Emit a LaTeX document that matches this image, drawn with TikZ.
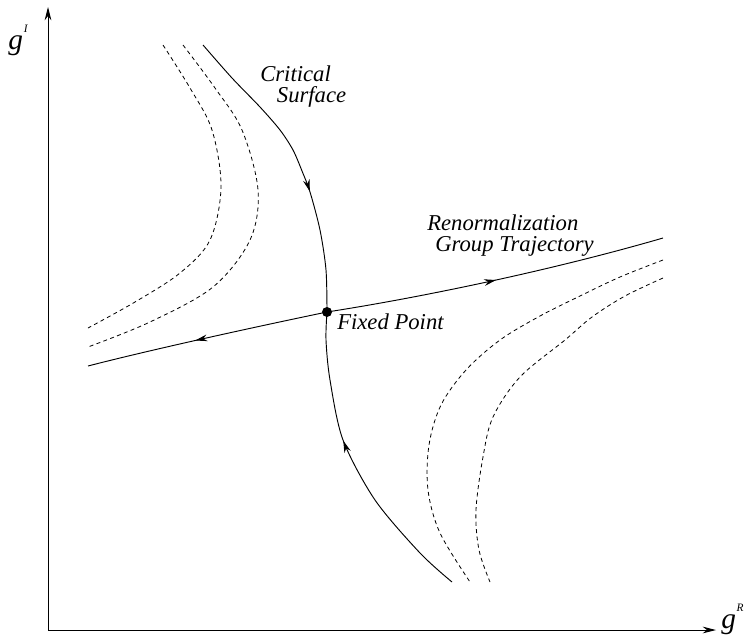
\documentclass[tikz,border=0pt]{standalone}
\usepackage{fontspec}
\setmainfont{Liberation Serif}
\usetikzlibrary{arrows.meta,decorations.markings}
\tikzset{
  flow/.style={postaction={decorate},decoration={markings,
    mark=at position #1 with {\arrow{Stealth[length=9pt,width=5pt]}}}},
  critline/.style={line width=0.7pt},
  nearline/.style={line width=0.6pt,dash pattern=on 3pt off 2.5pt},
  lbl/.style={font=\fontsize{17}{15.75}\selectfont\itshape,inner sep=0pt,anchor=north west,align=left}
}
\newcommand{\axlab}[1]{\textit{g}\kern0.5pt\raisebox{1.25ex}{\fontsize{8.5}{8.5}\selectfont\itshape #1}}
\begin{document}
\begin{tikzpicture}[x=0.75pt,y=-0.75pt]
\useasboundingbox (0,0) rectangle (745,635);
% axes
\coordinate (o) at (48,630);
\draw[line width=0.7pt,-{Stealth[length=10pt,width=5pt]}](o)--(48,7);
\draw[line width=0.7pt,-{Stealth[length=10pt,width=5pt]}](o)--(716,630);
\node[font=\fontsize{22}{24}\selectfont,inner sep=0pt] (gi) at (18,40) {\axlab{I}};
\node[font=\fontsize{22}{24}\selectfont,inner sep=0pt,anchor=base west] (gr) at (721,628) {\axlab{R}};
%
\node[circle,fill,inner sep=0pt,minimum size=7.5pt] (fp) at (327,312) {};
%
\draw[critline,flow=0.6] plot[smooth,tension=0.5] coordinates
  {(203,45) (232,78) (260,107) (280,130) (293,150) (302,171) (310,192) (320,230) (326,270) (fp.center)};
\draw[critline,flow=0.58] plot[smooth,tension=0.5] coordinates
  {(452,582) (420,553) (375,500) (343,440) (330,380) (326,340) (fp.center)};
\draw[critline,flow=0.5] (fp.center) .. controls (430,296) and (560,268) .. (663,238);
\draw[critline,flow=0.55] (fp.center) .. controls (250,328) and (150,350) .. (88,366);
%
\draw[nearline] plot[smooth,tension=0.55] coordinates
  {(163,45) (190,88) (212,130) (221,187) (210,240) (180,273) (135,302) (88,328)};
\draw[nearline] plot[smooth,tension=0.55] coordinates
  {(183,45) (215,88) (242,130) (258,190) (250,240) (213,287) (150,322) (88,347)};
%
\draw[nearline] plot[smooth,tension=0.55] coordinates
  {(663,260) (620,277) (580,296) (540,316) (500,340) (466,370) (441,405) (429,445) (428,490) (440,533) (470,582)};
\draw[nearline] plot[smooth,tension=0.55] coordinates
  {(663,278) (625,296) (592,317) (565,340) (520,377) (493,417) (483,457) (476,510) (479,550) (490,582)};
%
\node[lbl] (crit) at (260,66) {Critical\\\hspace*{12.5pt}Surface};
\node[lbl] (rg) at (427,215) {Renormalization\\\hspace*{6pt}Group Trajectory};
\node[lbl] (fpl) at (337,314) {Fixed Point};
\end{tikzpicture}
\end{document}
